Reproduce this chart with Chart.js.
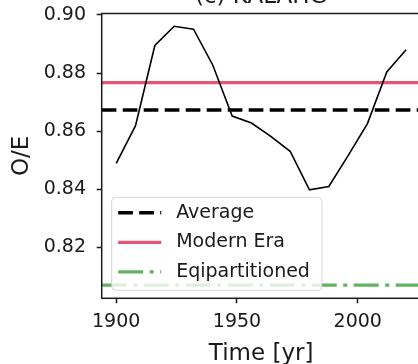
<!DOCTYPE html>
<html>
<head>
<meta charset="utf-8">
<script src="https://cdn.jsdelivr.net/npm/chart.js@4/dist/chart.umd.min.js"></script>
<style>
  html, body { margin: 0; padding: 0; background: #fff; overflow: hidden; }
  #wrap { position: relative; width: 418px; height: 364px; overflow: hidden; }
  #oe { position: absolute; left: 0; top: -30px; }
</style>
</head>
<body>
<div id="wrap"><canvas id="oe" width="440" height="394"></canvas></div>
<script>
// O/E ratio over time, with reference levels
const years = [1900, 1908, 1916, 1924, 1932, 1940, 1948, 1956, 1964, 1972, 1980, 1988, 1996, 2004, 2012, 2020];
const ratio = [0.8489, 0.8619, 0.8895, 0.8961, 0.8951, 0.8827, 0.8652, 0.8628, 0.8582, 0.8531, 0.8398, 0.8410, 0.8516, 0.8626, 0.8804, 0.8880];
const averageRatio = 0.8673;
const modernEraRatio = 0.8767;
const eqipartitionedRatio = 0.8070;

const xTicks = [1900, 1950, 2000];
const yTicks = [0.82, 0.84, 0.86, 0.88, 0.90];
const xRange = [1894, 2026];
const yRange = [0.8025, 0.9005];

const FONT = '"DejaVu Sans", sans-serif';
const INK = '#1a1a1a';

// horizontal line across the full x range
const hline = v => xRange.map(x => ({ x, y: v }));

const frame = {
  id: 'frame',
  afterDatasetsDraw(chart) {
    const { ctx, chartArea: a } = chart;
    ctx.save();
    ctx.strokeStyle = INK;
    ctx.lineWidth = 1.5;
    ctx.strokeRect(a.left, a.top, a.right - a.left, a.bottom - a.top);
    ctx.restore();
  }
};

const legendBox = {
  id: 'legendBox',
  afterDatasetsDraw(chart) {
    const { ctx, chartArea } = chart;
    const items = chart.data.datasets.filter(d => d.inLegend);
    ctx.save();
    ctx.font = '19px ' + FONT;
    const textW = Math.max(...items.map(d => ctx.measureText(d.label).width));
    const x0 = chartArea.left + 10;
    const w = 6.5 + 43 + 15 + textW + 12;
    const h = 93;
    const y0 = chartArea.bottom - 8 - h;
    ctx.beginPath();
    ctx.roundRect(x0, y0, w, h, 4);
    ctx.fillStyle = 'rgba(255,255,255,0.8)';
    ctx.fill();
    ctx.strokeStyle = 'rgba(204,204,204,0.8)';
    ctx.lineWidth = 1;
    ctx.stroke();
    items.forEach((d, i) => {
      const y = y0 + 15.5 + i * 29.5;
      ctx.beginPath();
      ctx.setLineDash(d.borderDash || []);
      ctx.strokeStyle = d.borderColor;
      ctx.lineWidth = d.borderWidth;
      ctx.lineCap = 'butt';
      ctx.moveTo(x0 + 6.5, y);
      ctx.lineTo(x0 + 6.5 + 43, y);
      ctx.stroke();
      ctx.setLineDash([]);
      ctx.fillStyle = INK;
      ctx.textBaseline = 'middle';
      ctx.fillText(d.label, x0 + 6.5 + 43 + 15, y);
    });
    ctx.restore();
  }
};

new Chart(document.getElementById('oe'), {
  type: 'line',
  data: {
    datasets: [
      {
        label: 'O/E',
        data: years.map((x, i) => ({ x, y: ratio[i] })),
        borderColor: '#000',
        borderWidth: 1.6,
        tension: 0,
        pointRadius: 0,
        order: 0
      },
      {
        label: 'Average',
        inLegend: true,
        data: hline(averageRatio),
        borderColor: '#000',
        borderWidth: 3.5,
        borderDash: [14.7, 6.3],
        pointRadius: 0,
        order: 1
      },
      {
        label: 'Modern Era',
        inLegend: true,
        data: hline(modernEraRatio),
        borderColor: 'rgb(228, 84, 116)',
        borderWidth: 3.2,
        pointRadius: 0,
        order: 2
      },
      {
        label: 'Eqipartitioned',
        inLegend: true,
        data: hline(eqipartitionedRatio),
        borderColor: 'rgb(98, 178, 98)',
        borderWidth: 3.3,
        borderDash: [25, 6.5, 4, 6.5],
        pointRadius: 0,
        order: 3
      }
    ]
  },
  options: {
    responsive: false,
    animation: false,
    layout: { padding: { top: 4, right: 19.4, bottom: 0, left: 0 } },
    plugins: {
      legend: { display: false },
      tooltip: { enabled: false },
      title: {
        display: true,
        text: '(c) KALAHG',
        fullSize: false,
        color: INK,
        font: { family: FONT, size: 23, weight: 'normal', lineHeight: 1 },
        padding: { top: 11.3, bottom: 5.2 }
      }
    },
    scales: {
      x: {
        type: 'linear',
        min: xRange[0],
        max: xRange[1],
        afterBuildTicks: s => { s.ticks = xTicks.map(value => ({ value })); },
        afterFit: s => { s.height = 65.7; },
        border: { display: false },
        grid: { drawOnChartArea: false, tickLength: 5, tickWidth: 1.5, tickColor: INK },
        ticks: { color: INK, padding: 7.3, maxRotation: 0, font: { family: FONT, size: 19 }, callback: v => String(v) },
        title: { display: true, text: 'Time [yr]', color: INK, font: { family: FONT, size: 23, lineHeight: 0.85 }, padding: { top: 0, bottom: 0 } }
      },
      y: {
        min: yRange[0],
        max: yRange[1],
        afterBuildTicks: s => { s.ticks = yTicks.map(value => ({ value })); },
        afterFit: s => { s.width = 101.7; },
        border: { display: false },
        grid: { drawOnChartArea: false, tickLength: 5, tickWidth: 1.5, tickColor: INK },
        ticks: { color: INK, padding: 10.7, font: { family: FONT, size: 19 }, callback: v => v.toFixed(2) },
        title: { display: true, text: 'O/E', color: INK, font: { family: FONT, size: 23, lineHeight: 1 }, padding: { top: 11, bottom: 0 } }
      }
    }
  },
  plugins: [frame, legendBox]
});
</script>
</body>
</html>
